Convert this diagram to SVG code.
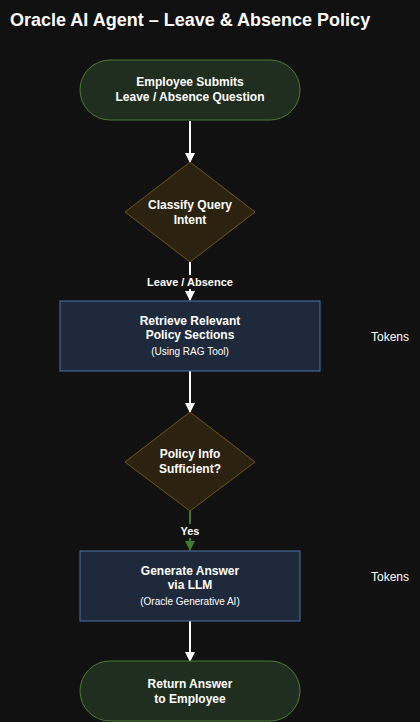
<svg xmlns="http://www.w3.org/2000/svg" width="420" height="722" viewBox="0 0 420 722">
<defs>
<marker id="aw" markerWidth="10" markerHeight="10" refX="9" refY="5" orient="auto" markerUnits="userSpaceOnUse"><path d="M0,0 L10,5 L0,10 z" fill="#ffffff"/></marker>
<marker id="ag" markerWidth="10" markerHeight="10" refX="9" refY="5" orient="auto" markerUnits="userSpaceOnUse"><path d="M0,0 L10,5 L0,10 z" fill="#3f7a30"/></marker>
<style>
text{font-family:"Liberation Sans",Arial,sans-serif;fill:#ffffff;text-anchor:middle}
.t{font-size:12px;font-weight:bold}
.s{font-size:10px}
.term{fill:#1f2e1f;stroke:#4d7a36;stroke-width:1}
.dec{fill:#2b2210;stroke:#6e5520;stroke-width:1}
.proc{fill:#1e293b;stroke:#4f74a8;stroke-width:1}
.c{stroke:#ffffff;stroke-width:2;fill:none}
.cg{stroke:#3f7a30;stroke-width:2;fill:none}
.lbl{font-size:11px;font-weight:bold}
.tok{font-size:12px;text-anchor:start}
</style>
</defs>
<rect width="420" height="722" fill="#111111"/>
<text x="10" y="26" style="font-size:18px;font-weight:bold;text-anchor:start">Oracle AI Agent – Leave &amp; Absence Policy</text>
<g id="connectors">
<line class="c" x1="190" y1="121" x2="190" y2="162" marker-end="url(#aw)"/>
<line class="c" x1="190" y1="262" x2="190" y2="300" marker-end="url(#aw)"/>
<rect x="145" y="275" width="90" height="14" fill="#111111"/>
<text class="lbl" x="190" y="286">Leave / Absence</text>
<line class="c" x1="190" y1="371" x2="190" y2="412" marker-end="url(#aw)"/>
<line class="cg" x1="190" y1="511" x2="190" y2="550" marker-end="url(#ag)"/>
<rect x="178" y="524" width="24" height="14" fill="#111111"/>
<text class="lbl" x="190" y="535">Yes</text>
<line class="c" x1="190" y1="621" x2="190" y2="661" marker-end="url(#aw)"/>
</g>
<g id="start">
<rect class="term" x="80" y="60" width="220" height="60" rx="30"/>
<text class="t" x="190" y="86">Employee Submits</text>
<text class="t" x="190" y="101">Leave / Absence Question</text>
</g>
<g id="classify">
<polygon class="dec" points="190,162 255,212 190,262 125,212"/>
<text class="t" x="190" y="209">Classify Query</text>
<text class="t" x="190" y="224">Intent</text>
</g>
<g id="retrieve">
<rect class="proc" x="60" y="301" width="260" height="70"/>
<text class="t" x="190" y="325">Retrieve Relevant</text>
<text class="t" x="190" y="339">Policy Sections</text>
<text class="s" x="190" y="355">(Using RAG Tool)</text>
</g>
<text class="tok" x="371" y="341">Tokens</text>
<g id="sufficient">
<polygon class="dec" points="190,412 255,462 190,511 125,462"/>
<text class="t" x="190" y="458">Policy Info</text>
<text class="t" x="190" y="473">Sufficient?</text>
</g>
<g id="generate">
<rect class="proc" x="80" y="551" width="220" height="70"/>
<text class="t" x="190" y="575">Generate Answer</text>
<text class="t" x="190" y="589">via LLM</text>
<text class="s" x="190" y="605">(Oracle Generative AI)</text>
</g>
<text class="tok" x="371" y="581">Tokens</text>
<g id="end">
<rect class="term" x="80" y="661" width="220" height="60" rx="30"/>
<text class="t" x="190" y="688">Return Answer</text>
<text class="t" x="190" y="703">to Employee</text>
</g>
</svg>
